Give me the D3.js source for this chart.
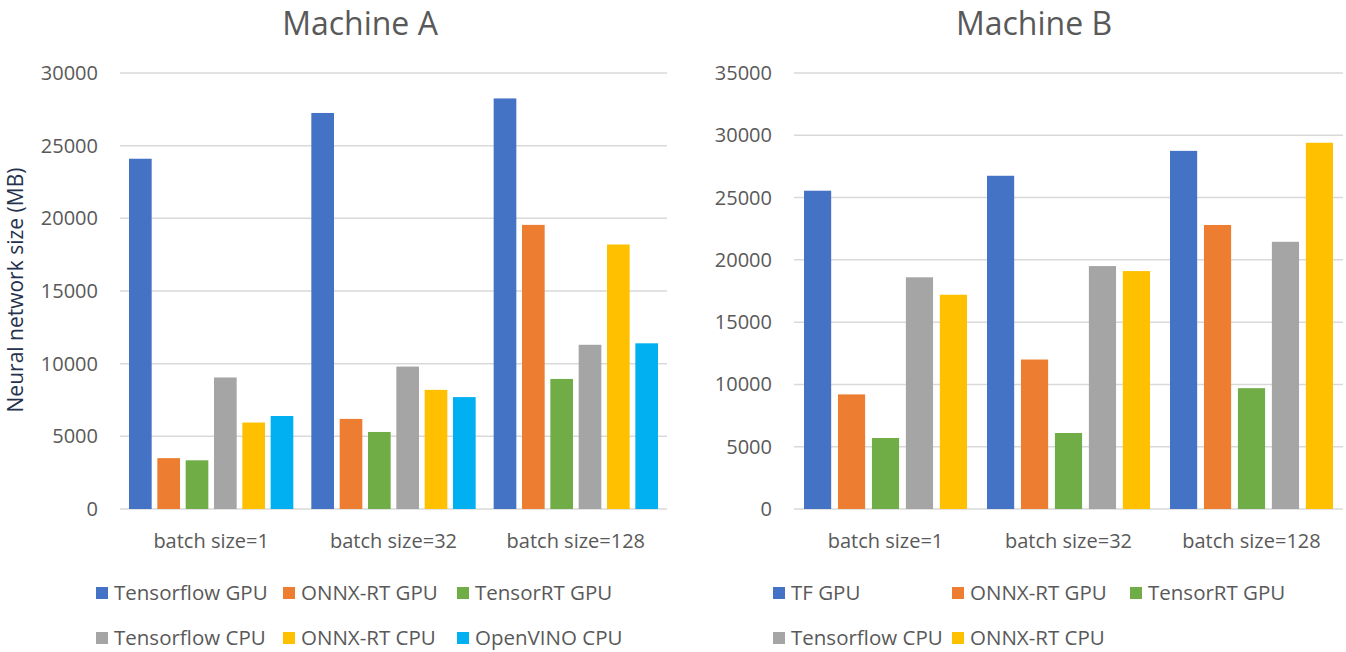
<!doctype html>
<html lang="en">
<head>
<meta charset="utf-8">
<title>Machine A / Machine B</title>
<script src="https://d3js.org/d3.v7.min.js"></script>
<style>
  body { margin: 0; background: #fff; }
  svg text { font-family: "Open Sans", sans-serif; }
  .tick-label { fill: #595959; font-size: 20px; }
  .legend-label { fill: #595959; font-size: 20.5px; }
  .title { fill: #595959; font-size: 32px; }
</style>
</head>
<body>
<svg id="chart" width="1346" height="652"></svg>
<script>
// data
var categories = ["batch size=1", "batch size=32", "batch size=128"];

var seriesA = ["Tensorflow GPU", "ONNX-RT GPU", "TensorRT GPU", "Tensorflow CPU", "ONNX-RT CPU", "OpenVINO CPU"];
var valuesA = [
  [24100, 27250, 28250],
  [3500, 6200, 19550],
  [3350, 5300, 8950],
  [9050, 9800, 11300],
  [5950, 8200, 18200],
  [6400, 7700, 11400]
];
var ticksA = [0, 5000, 10000, 15000, 20000, 25000, 30000];

var seriesB = ["TF GPU", "ONNX-RT GPU", "TensorRT GPU", "Tensorflow CPU", "ONNX-RT CPU"];
var valuesB = [
  [25550, 26750, 28750],
  [9200, 12000, 22800],
  [5700, 6100, 9700],
  [18600, 19500, 21450],
  [17200, 19100, 29400]
];
var ticksB = [0, 5000, 10000, 15000, 20000, 25000, 30000, 35000];

var colors = ["#4472C4", "#ED7D31", "#70AD47", "#A5A5A5", "#FFC000", "#00B0F0"];

var svg = d3.select("#chart");

function drawChart(cfg) {
  var g = svg.append("g");

  var x0 = d3.scaleBand().domain(categories).range([cfg.left, cfg.right]);
  var x1 = d3.scaleBand().domain(cfg.series)
    .range([cfg.pad, x0.bandwidth() - cfg.pad]).paddingInner(0.2);
  var y = d3.scaleLinear().domain([0, d3.max(cfg.ticks)]).range([509, 73]);

  // gridlines
  g.selectAll(".grid").data(cfg.ticks).enter().append("line")
    .attr("x1", cfg.left).attr("x2", cfg.right)
    .attr("y1", function(d) { return y(d); }).attr("y2", function(d) { return y(d); })
    .attr("stroke", "#d9d9d9").attr("stroke-width", 1.5);

  // y tick labels
  g.selectAll(".ytick").data(cfg.ticks).enter().append("text")
    .attr("class", "tick-label")
    .attr("x", cfg.left - 22)
    .attr("y", function(d) { return y(d) + 7; })
    .attr("text-anchor", "end")
    .text(function(d) { return d; });

  // bars
  var rows = [];
  cfg.series.forEach(function(s, i) {
    categories.forEach(function(c, j) {
      rows.push({ series: s, cat: c, value: cfg.values[i][j], color: colors[i] });
    });
  });
  g.selectAll(".bar").data(rows).enter().append("rect")
    .attr("x", function(d) { return x0(d.cat) + x1(d.series); })
    .attr("y", function(d) { return y(d.value); })
    .attr("width", x1.bandwidth())
    .attr("height", function(d) { return y(0) - y(d.value); })
    .attr("fill", function(d) { return d.color; });

  // category labels
  g.selectAll(".xlab").data(categories).enter().append("text")
    .attr("class", "tick-label")
    .attr("x", function(d) { return x0(d) + x0.bandwidth() / 2; })
    .attr("y", 548)
    .attr("text-anchor", "middle")
    .text(function(d) { return d; });

  // title
  g.append("text").attr("class", "title")
    .attr("x", cfg.titleX).attr("y", 35)
    .attr("text-anchor", "middle")
    .text(cfg.title);

  // legend, 3 columns x 2 rows
  var leg = g.selectAll(".leg").data(cfg.series).enter().append("g")
    .attr("transform", function(d, i) {
      return "translate(" + cfg.legendCols[i % 3] + "," + (i < 3 ? 593 : 638) + ")";
    });
  leg.append("rect").attr("x", 0).attr("y", -6).attr("width", 12).attr("height", 12)
    .attr("fill", function(d, i) { return colors[i]; });
  leg.append("text").attr("class", "legend-label")
    .attr("x", 18).attr("y", 7)
    .text(function(d) { return d; });
}

drawChart({
  title: "Machine A", titleX: 360,
  series: seriesA, values: valuesA, ticks: ticksA,
  left: 120, right: 667, pad: 9,
  legendCols: [96, 283, 457]
});

drawChart({
  title: "Machine B", titleX: 1034,
  series: seriesB, values: valuesB, ticks: ticksB,
  left: 794, right: 1343, pad: 10,
  legendCols: [773, 952, 1130]
});

// y axis title (only on the left chart)
svg.append("text")
  .attr("transform", "translate(23,290) rotate(-90)")
  .attr("text-anchor", "middle")
  .style("font-size", "21px")
  .attr("fill", "#25324d")
  .text("Neural network size (MB)");
</script>
</body>
</html>
